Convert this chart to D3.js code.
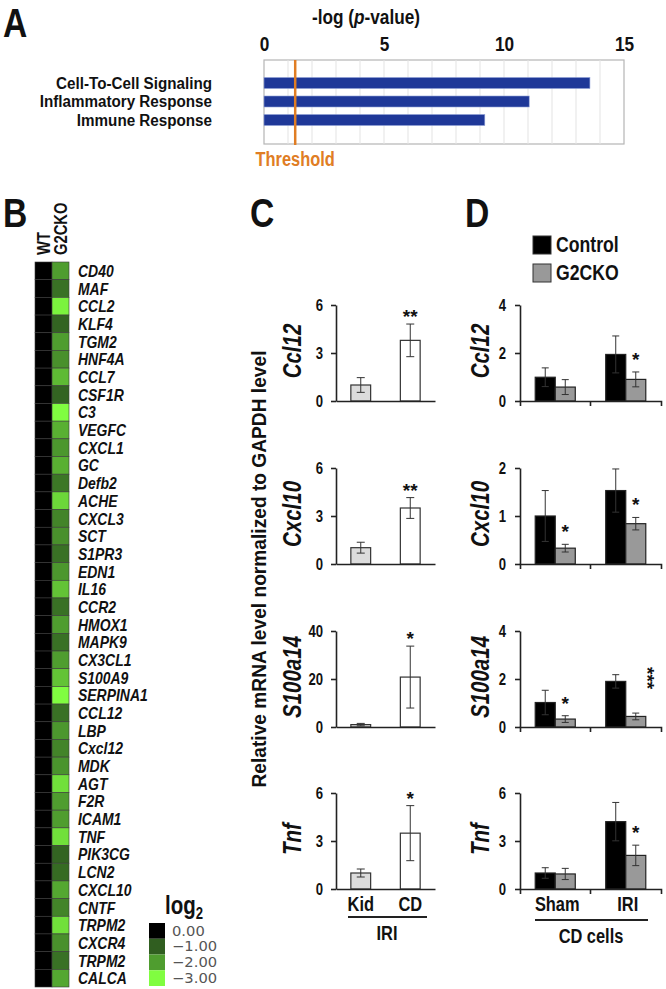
<!DOCTYPE html>
<html><head><meta charset="utf-8">
<script src="https://cdn.jsdelivr.net/npm/d3@7"></script>
<style>
body{margin:0;background:#fff;}
svg{display:block;}
text{font-family:'Liberation Sans',Arial,sans-serif;font-weight:bold;fill:#111;}
</style></head><body><svg id="c" width="666" height="989"></svg>
<script>
// ---------- DATA ----------
// Panel A
const pathways = ["Cell-To-Cell Signaling", "Inflammatory Response", "Immune Response"];
const negLogP = [13.58, 11.05, 9.2];
const threshold = 1.3;
const aTicks = [0, 5, 10, 15];

// Panel B
const genes = ["CD40","MAF","CCL2","KLF4","TGM2","HNF4A","CCL7","CSF1R","C3","VEGFC","CXCL1","GC","Defb2","ACHE","CXCL3","SCT","S1PR3","EDN1","IL16","CCR2","HMOX1","MAPK9","CX3CL1","S100A9","SERPINA1","CCL12","LBP","Cxcl12","MDK","AGT","F2R","ICAM1","TNF","PIK3CG","LCN2","CXCL10","CNTF","TRPM2","CXCR4","TRPM2","CALCA"];
const heatCols = ["WT", "G2CKO"];
const wtLog2 = [0,0,0,0,0,0,0,0,0,0,0,0,0,0,0,0,0,0,0,0,0,0,0,0,0,0,0,0,0,0,0,0,0,0,0,0,0,0,0,0,0];
const g2ckoLog2 = [-2.0,-1.3,-2.9,-1.1,-2.0,-1.8,-2.3,-1.1,-3.0,-2.2,-1.9,-2.2,-1.4,-2.6,-1.6,-1.8,-1.3,-1.9,-2.4,-1.3,-2.0,-1.3,-2.0,-2.4,-3.0,-1.3,-1.9,-1.6,-1.85,-2.7,-2.0,-2.0,-2.7,-1.1,-1.2,-2.1,-1.6,-2.7,-1.8,-1.3,-2.1];
const legendValues = [0, -1, -2, -3];

// Panel C
const cGenes = ["Ccl12", "Cxcl10", "S100a14", "Tnf"];
const cGroups = ["Kid", "CD"];
const cMeans = [[1.0, 3.79], [1.02, 3.5], [1.0, 20.8], [1.0, 3.49]];
const cErrs = [[0.46, 1.02], [0.34, 0.65], [0.5, 12.9], [0.25, 1.72]];
const cMax = [6, 6, 40, 6];
const cTicks = [[0, 3, 6], [0, 3, 6], [0, 20, 40], [0, 3, 6]];
const cStars = [["", "**"], ["", "**"], ["", "*"], ["", "*"]];
const cGroupLabel = "IRI";

// Panel D
const dGenes = ["Ccl12", "Cxcl10", "S100a14", "Tnf"];
const dGroups = ["Sham", "IRI"];
const dSeries = ["Control", "G2CKO"];
const dControl = [[0.99, 1.94], [1.0, 1.53], [1.02, 1.9], [1.0, 4.21]];
const dControlErr = [[0.39, 0.77], [0.53, 0.45], [0.51, 0.28], [0.33, 1.2]];
const dKO = [[0.58, 0.9], [0.33, 0.84], [0.33, 0.44], [0.94, 2.1]];
const dKOErr = [[0.31, 0.31], [0.08, 0.13], [0.14, 0.14], [0.35, 0.64]];
const dMax = [4, 2, 4, 6];
const dTicks = [[0, 2, 4], [0, 1, 2], [0, 2, 4], [0, 3, 6]];
const dStars = [["", "*"], ["*", "*"], ["*", "***"], ["", "*"]];
const dGroupLabel = "CD cells";

// ---------- DRAW ----------
const svg = d3.select("#c");
const DARK = "#222";
const fmtInt = d3.format("d");

// Panel letters
[["A", 3, 37], ["B", 3, 227], ["C", 250, 227], ["D", 465, 227]].forEach(([t, x, y]) => {
  svg.append("text").attr("x", x).attr("y", y).attr("font-size", 41).text(t);
});

// ===== Panel A =====
const xA = d3.scaleLinear().domain([0, 15]).range([264, 624]);
const yA = d3.scalePoint().domain(pathways).range([83, 120]);
const boxTop = 60, boxBot = 144;
const gA = svg.append("g");
gA.append("rect").attr("x", xA(0)).attr("y", boxTop).attr("width", xA(15) - xA(0)).attr("height", boxBot - boxTop)
  .attr("fill", "#fff").attr("stroke", "#b5b5b5").attr("stroke-width", 1.2);
gA.selectAll("line.grid").data(d3.range(1, 15)).join("line").attr("class", "grid")
  .attr("x1", d => xA(d)).attr("x2", d => xA(d)).attr("y1", boxTop).attr("y2", boxBot)
  .attr("stroke", "#e3e3e3").attr("stroke-width", 1);
const axA = gA.append("g").attr("transform", `translate(0,${boxTop})`)
  .call(d3.axisTop(xA).tickValues(aTicks).tickSize(0).tickPadding(9).tickFormat(fmtInt));
axA.select(".domain").remove();
axA.selectAll("text").attr("font-size", 21);
gA.selectAll("rect.bar").data(negLogP).join("rect").attr("class", "bar")
  .attr("x", xA(0)).attr("y", (d, i) => yA(pathways[i]) - 5.5)
  .attr("width", d => xA(d) - xA(0)).attr("height", 11)
  .attr("fill", "#1f3898").attr("stroke", "#8fa0d8").attr("stroke-width", 0.6);
gA.selectAll("text.cat").data(pathways).join("text").attr("class", "cat noc")
  .attr("x", 212).attr("y", d => yA(d)).attr("dy", "0.36em").attr("text-anchor", "end")
  .attr("font-size", 16).text(d => d)
  .each(function () {
    const L = this.getComputedTextLength();
    d3.select(this).attr("textLength", L * 0.95).attr("lengthAdjust", "spacingAndGlyphs");
  });
gA.append("line").attr("x1", xA(threshold)).attr("x2", xA(threshold)).attr("y1", boxTop).attr("y2", boxBot + 1)
  .attr("stroke", "#e07d24").attr("stroke-width", 2.5);
gA.append("text").attr("x", xA(threshold)).attr("y", 166).attr("text-anchor", "middle")
  .attr("font-size", 20).style("fill", "#e07d24").text("Threshold");
// title with italic p: condensed via group scale (no textLength on tspans)
const tA = gA.append("g").attr("transform", "translate(366,24) scale(0.82,1)")
  .append("text").attr("class", "noc").attr("text-anchor", "middle").attr("font-size", 21);
tA.append("tspan").text("-log (");
tA.append("tspan").attr("font-style", "italic").text("p");
tA.append("tspan").text("-value)");

// ===== Panel B =====
const xB = d3.scaleBand().domain(heatCols).range([35, 69]);
const yB = d3.scaleBand().domain(d3.range(genes.length)).range([262, 987]);
const colorB = d3.scaleLinear().domain([0, -1, -2, -3]).range(["#000000", "#305e20", "#4f9d2f", "#80fd40"]).clamp(true);
const gB = svg.append("g");
const cells = [];
genes.forEach((g, i) => { cells.push({ col: "WT", i, v: wtLog2[i] }); cells.push({ col: "G2CKO", i, v: g2ckoLog2[i] }); });
gB.selectAll("rect").data(cells).join("rect")
  .attr("x", d => xB(d.col)).attr("y", d => yB(d.i)).attr("width", xB.bandwidth()).attr("height", yB.bandwidth())
  .attr("fill", d => colorB(d.v)).attr("stroke", "#3a3a3a").attr("stroke-width", 0.6);
gB.selectAll("text.gene").data(genes).join("text").attr("class", "gene")
  .attr("x", 78).attr("y", (d, i) => yB(i) + yB.bandwidth() / 2).attr("dy", "0.36em")
  .attr("font-size", 17).attr("font-style", "italic").text(d => d);
heatCols.forEach(c => {
  gB.append("text").attr("transform", `translate(${xB(c) + xB.bandwidth() / 2 + 6},255) rotate(-90)`)
    .attr("font-size", 18).text(c);
});
// legend
const legY = d3.scaleBand().domain(legendValues).range([923, 986]);
gB.selectAll("rect.leg").data(legendValues).join("rect").attr("class", "leg")
  .attr("x", 149).attr("y", d => legY(d)).attr("width", 16).attr("height", legY.bandwidth())
  .attr("fill", d => colorB(d));
gB.selectAll("text.leg").data(legendValues).join("text").attr("class", "leg noc")
  .attr("x", 172).attr("y", d => legY(d) + legY.bandwidth() / 2).attr("dy", "0.36em")
  .attr("font-size", 13.4).style("font-family", "'DejaVu Sans',sans-serif").style("font-weight", "normal")
  .style("fill", "#555").text(d => d3.format(".2f")(d))
  .each(function () {
    const L = this.getComputedTextLength();
    d3.select(this).attr("textLength", L * 1.1).attr("lengthAdjust", "spacingAndGlyphs");
  });
const lg = gB.append("g").attr("transform", "translate(165,914) scale(0.82,1)")
  .append("text").attr("class", "noc").attr("font-size", 25);
lg.append("tspan").text("log");
lg.append("tspan").attr("font-size", 16).attr("dy", 5).text("2");

// ===== Panel C & D shared layout =====
const rowTops = [305, 468, 631, 793];
const chartH = 96;

// Y title for C
svg.append("text").attr("class", "ytitle noc").attr("transform", "translate(266,569) rotate(-90)").attr("text-anchor", "middle")
  .attr("font-size", 21).attr("textLength", 437).attr("lengthAdjust", "spacingAndGlyphs")
  .text("Relative mRNA level normalized to GAPDH level");

function errorBar(g, cx, y, mean, err, w) {
  g.append("line").attr("x1", cx).attr("x2", cx).attr("y1", y(mean + err)).attr("y2", y(Math.max(0, mean - err))).attr("stroke", "#333").attr("stroke-width", 1);
  [mean + err, Math.max(0, mean - err)].forEach(v => {
    g.append("line").attr("x1", cx - w / 2).attr("x2", cx + w / 2).attr("y1", y(v)).attr("y2", y(v)).attr("stroke", "#333").attr("stroke-width", 1);
  });
}

// ----- Panel C -----
const xC = d3.scaleBand().domain(cGroups).range([336, 435]).paddingInner(0.6).paddingOuter(0.3);
const cFill = ["#dcdcdc", "#ffffff"];
cGenes.forEach((gene, r) => {
  const top = rowTops[r];
  const y = d3.scaleLinear().domain([0, cMax[r]]).range([top + chartH, top]);
  const g = svg.append("g");
  cGroups.forEach((grp, j) => {
    const m = cMeans[r][j], e = cErrs[r][j];
    g.append("rect").attr("x", xC(grp)).attr("y", y(m)).attr("width", xC.bandwidth()).attr("height", y(0) - y(m))
      .attr("fill", cFill[j]).attr("stroke", "#333").attr("stroke-width", 1.2);
    errorBar(g, xC(grp) + xC.bandwidth() / 2, y, m, e, 8);
    if (cStars[r][j]) g.append("text").attr("class", "noc").attr("x", xC(grp) + xC.bandwidth() / 2).attr("y", y(m + e) - 1)
      .attr("text-anchor", "middle").attr("font-size", 19).text(cStars[r][j]);
  });
  const ay = g.append("g").attr("transform", "translate(336,0)")
    .call(d3.axisLeft(y).tickValues(cTicks[r]).tickSize(5).tickSizeOuter(0).tickPadding(8).tickFormat(fmtInt));
  ay.selectAll("text").attr("font-size", 16);
  ay.selectAll("path,line").attr("stroke", DARK).attr("stroke-width", 1.6);
  const ax = g.append("g").attr("transform", `translate(0,${top + chartH})`)
    .call(d3.axisBottom(xC).tickSize(0).tickSizeOuter(0).tickFormat(""));
  ax.select(".domain").attr("stroke", DARK).attr("stroke-width", 1.6);
  g.append("text").attr("transform", `translate(301,${top + 46}) rotate(-90)`).attr("text-anchor", "middle")
    .attr("font-size", 25).attr("font-style", "italic").text(gene);
  if (r === cGenes.length - 1) {
    g.selectAll("text.grp").data(cGroups).join("text").attr("class", "grp")
      .attr("x", d => xC(d) + xC.bandwidth() / 2).attr("y", top + chartH + 22).attr("text-anchor", "middle")
      .attr("font-size", 20).text(d => d);
    g.append("line").attr("x1", 348).attr("x2", 427).attr("y1", top + chartH + 28).attr("y2", top + chartH + 28)
      .attr("stroke", DARK).attr("stroke-width", 2);
    g.append("text").attr("x", 387).attr("y", top + chartH + 51).attr("text-anchor", "middle")
      .attr("font-size", 20).text(cGroupLabel);
  }
});

// ----- Panel D -----
const x0 = d3.scaleBand().domain(dGroups).range([520, 661]);
const x1 = d3.scaleBand().domain(dSeries).range([0, x0.bandwidth()]).paddingOuter(0.76);
const dFill = ["#000000", "#999999"];
// legend
dSeries.forEach((s, k) => {
  svg.append("rect").attr("x", 533).attr("y", 236 + k * 28).attr("width", 18).attr("height", 18)
    .attr("fill", dFill[k]).attr("stroke", "#333").attr("stroke-width", 1);
  svg.append("text").attr("x", 556).attr("y", 252 + k * 28).attr("font-size", 21.5).text(s);
});
dGenes.forEach((gene, r) => {
  const top = rowTops[r];
  const y = d3.scaleLinear().domain([0, dMax[r]]).range([top + chartH, top]);
  const g = svg.append("g");
  const means = [dControl[r], dKO[r]], errs = [dControlErr[r], dKOErr[r]];
  dGroups.forEach((grp, j) => {
    dSeries.forEach((s, k) => {
      const m = means[k][j], e = errs[k][j];
      const bx = x0(grp) + x1(s);
      g.append("rect").attr("x", bx).attr("y", y(m)).attr("width", x1.bandwidth()).attr("height", y(0) - y(m))
        .attr("fill", dFill[k]).attr("stroke", "#222").attr("stroke-width", 1.2);
      errorBar(g, bx + x1.bandwidth() / 2, y, m, e, 7);
    });
    const st = dStars[r][j];
    if (st) {
      const cx = x0(grp) + x1("G2CKO") + x1.bandwidth() / 2;
      const eTop = y(dKO[r][j] + dKOErr[r][j]);
      if (st.length === 3) {
        g.append("text").attr("class", "noc").attr("transform", `translate(${cx + 5},${eTop - 35}) rotate(90)`).attr("text-anchor", "middle")
          .attr("font-size", 19).text(st);
      } else {
        g.append("text").attr("class", "noc").attr("x", cx).attr("y", eTop - 6).attr("text-anchor", "middle").attr("font-size", 19).text(st);
      }
    }
  });
  const ay = g.append("g").attr("transform", "translate(520,0)")
    .call(d3.axisLeft(y).tickValues(dTicks[r]).tickSize(5).tickSizeOuter(0).tickPadding(9).tickFormat(fmtInt));
  ay.selectAll("text").attr("font-size", 16);
  ay.selectAll("path,line").attr("stroke", DARK).attr("stroke-width", 1.6);
  const ax = g.append("g").attr("transform", `translate(0,${top + chartH})`)
    .call(d3.axisBottom(x0).tickSize(0).tickSizeOuter(5).tickFormat(""));
  ax.select(".domain").attr("stroke", DARK).attr("stroke-width", 1.6);
  g.append("line").attr("x1", x0("IRI")).attr("x2", x0("IRI")).attr("y1", top + chartH).attr("y2", top + chartH + 5)
    .attr("stroke", DARK).attr("stroke-width", 1.6);
  g.append("text").attr("transform", `translate(489,${top + 46}) rotate(-90)`).attr("text-anchor", "middle")
    .attr("font-size", 25).attr("font-style", "italic").text(gene);
  if (r === dGenes.length - 1) {
    g.selectAll("text.grp").data(dGroups).join("text").attr("class", "grp")
      .attr("x", d => x0(d) + x0.bandwidth() / 2 + 2).attr("y", top + chartH + 22).attr("text-anchor", "middle")
      .attr("font-size", 20).text(d => d);
    g.append("line").attr("x1", 535).attr("x2", 648).attr("y1", top + chartH + 31).attr("y2", top + chartH + 31)
      .attr("stroke", DARK).attr("stroke-width", 2);
    g.append("text").attr("x", 591).attr("y", top + chartH + 54).attr("text-anchor", "middle")
      .attr("font-size", 20).text(dGroupLabel);
  }
});

// condense all bold labels horizontally to mimic the condensed typeface
svg.selectAll("text").filter(function () { return !this.classList.contains("noc"); }).each(function () {
  const L = this.getComputedTextLength();
  d3.select(this).attr("textLength", L * 0.82).attr("lengthAdjust", "spacingAndGlyphs");
});
</script></body></html>
